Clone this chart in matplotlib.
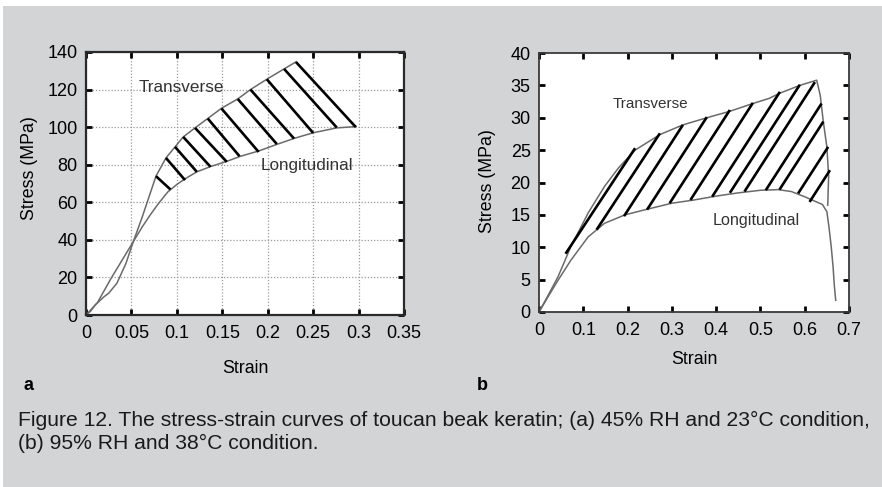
import numpy as np
import matplotlib
matplotlib.use("Agg")
import matplotlib.pyplot as plt
from matplotlib.patches import Rectangle

plt.rcParams['font.family'] = ['Liberation Sans', 'DejaVu Sans']

# (a) 45% RH, 23 C  -- strain / stress (MPa)
a_trans_strain = [0, 0.005, 0.010, 0.0198, 0.025, 0.034, 0.044, 0.052, 0.062, 0.077, 0.088,
                  0.098, 0.107, 0.120, 0.134, 0.149, 0.167, 0.181, 0.199, 0.218, 0.231]
a_trans_stress = [0, 2.0, 5.3, 9.7, 11.6, 16.9, 27.5, 39.0, 52.3, 73.9, 83.6,
                  89.5, 94.8, 99.6, 104.6, 110.0, 115.0, 120.0, 125.5, 131.0, 134.7]
a_long_strain = [0, 0.0125, 0.027, 0.042, 0.052, 0.062, 0.071, 0.080, 0.090, 0.100, 0.109,
                 0.122, 0.137, 0.155, 0.170, 0.190, 0.210, 0.229, 0.250, 0.276, 0.297]
a_long_stress = [0, 6.5, 19.0, 31.0, 39.0, 47.0, 53.5, 59.5, 65.5, 69.5, 72.5,
                 76.2, 79.0, 81.8, 84.5, 87.3, 90.8, 94.0, 97.0, 99.6, 100.3]
# hatch lines: top end (transverse) -> bottom end (longitudinal)
a_hatch_top = [(0.077, 73.9), (0.088, 83.6), (0.098, 89.5), (0.107, 94.8), (0.120, 99.6),
               (0.134, 104.6), (0.149, 110.0), (0.167, 115.0), (0.181, 120.0),
               (0.199, 125.5), (0.218, 131.0), (0.231, 134.7)]
a_hatch_bot = [(0.093, 66.8), (0.109, 71.8), (0.122, 76.2), (0.137, 78.9), (0.155, 81.5),
               (0.169, 84.5), (0.190, 86.8), (0.210, 91.0), (0.229, 93.9),
               (0.250, 96.9), (0.276, 99.8), (0.297, 100.0)]

# (b) 95% RH, 38 C
b_trans_strain = [0, 0.020, 0.043, 0.072, 0.111, 0.148, 0.180, 0.217, 0.273, 0.325, 0.379,
                  0.431, 0.483, 0.520, 0.544, 0.589, 0.627, 0.635, 0.642, 0.650, 0.654, 0.652]
b_trans_stress = [0, 2.5, 5.45, 10.1, 15.3, 19.4, 22.3, 25.0, 27.4, 28.9, 30.0,
                  31.0, 32.2, 33.0, 33.8, 35.0, 35.8, 33.5, 29.4, 25.5, 21.0, 16.5]
b_long_strain = [0, 0.020, 0.043, 0.072, 0.111, 0.148, 0.194, 0.240, 0.300, 0.350, 0.400,
                 0.450, 0.500, 0.540, 0.570, 0.600, 0.620, 0.640, 0.650, 0.655, 0.660,
                 0.664, 0.667, 0.670]
b_long_stress = [0, 2.3, 4.9, 8.0, 11.6, 13.7, 15.0, 15.8, 16.8, 17.3, 17.9,
                 18.4, 18.8, 18.9, 18.6, 17.8, 17.2, 16.6, 15.5, 13.0, 10.0,
                 7.0, 4.0, 1.8]
b_hatch_top = [(0.217, 25.3), (0.273, 27.6), (0.325, 28.9), (0.379, 30.1), (0.431, 31.2),
               (0.483, 32.3), (0.544, 34.0), (0.589, 35.1), (0.623, 35.5), (0.638, 32.2),
               (0.642, 29.4), (0.653, 25.5), (0.657, 21.9)]
b_hatch_bot = [(0.060, 9.0), (0.130, 12.7), (0.192, 14.8), (0.244, 15.8), (0.295, 16.8),
               (0.342, 17.3), (0.391, 17.8), (0.431, 18.4), (0.464, 18.6), (0.512, 18.8),
               (0.543, 18.9), (0.585, 18.3), (0.611, 17.0)]

a_xticks = [0, 0.05, 0.1, 0.15, 0.2, 0.25, 0.3, 0.35]
a_xlabels = ['0', '0.05', '0.1', '0.15', '0.2', '0.25', '0.3', '0.35']
a_yticks = [0, 20, 40, 60, 80, 100, 120, 140]
b_xticks = [0, 0.1, 0.2, 0.3, 0.4, 0.5, 0.6, 0.7]
b_xlabels = ['0', '0.1', '0.2', '0.3', '0.4', '0.5', '0.6', '0.7']
b_yticks = [0, 5, 10, 15, 20, 25, 30, 35, 40]

caption_lines = ["Figure 12. The stress-strain curves of toucan beak keratin; (a) 45% RH and 23\u00b0C condition,",
                 "(b) 95% RH and 38\u00b0C condition."]

bg = '#d3d4d6'
curve_c = '#6a6a6a'

fig = plt.figure(figsize=(8.82, 4.87), dpi=100)
fig.patch.set_facecolor('white')
fig.add_artist(Rectangle((3 / 882, 0), 1, 1 - 6 / 487, transform=fig.transFigure,
                         facecolor=bg, edgecolor='none', zorder=-10))

axa = fig.add_axes([86 / 882, 1 - 315 / 487, 318 / 882, 263 / 487])
axb = fig.add_axes([539 / 882, 1 - 312 / 487, 310 / 882, 259 / 487])

# panel a
axa.plot(a_trans_strain, a_trans_stress, color=curve_c, lw=1.1)
axa.plot(a_long_strain, a_long_stress, color=curve_c, lw=1.1)
for (x0, y0), (x1, y1) in zip(a_hatch_top, a_hatch_bot):
    axa.plot([x0, x1], [y0, y1], color='black', lw=1.9, solid_capstyle='butt')
axa.set_xlim(0, 0.35)
axa.set_ylim(0, 140)
axa.set_xticks(a_xticks)
axa.set_xticklabels(a_xlabels)
axa.set_yticks(a_yticks)
axa.grid(True, color='#9a9a9a', linestyle=(0, (1, 1.5)), linewidth=0.9)
axa.text(0.105, 121, 'Transverse', fontsize=12.3, ha='center', va='center', color='#333333')
axa.text(0.243, 79.5, 'Longitudinal', fontsize=12.3, ha='center', va='center', color='#333333')
for s in axa.spines.values():
    s.set_linewidth(1.6)
    s.set_color('#2a2a2a')
axa.set_xlabel('Strain', fontsize=12.8)
axa.set_ylabel('Stress (MPa)', fontsize=12.8)
axa.xaxis.set_label_coords(0.5, -0.17)
axa.yaxis.set_label_coords(-0.15, 0.56)

# panel b
axb.plot(b_trans_strain, b_trans_stress, color=curve_c, lw=1.1)
axb.plot(b_long_strain, b_long_stress, color=curve_c, lw=1.1)
for (x0, y0), (x1, y1) in zip(b_hatch_top, b_hatch_bot):
    axb.plot([x0, x1], [y0, y1], color='black', lw=1.9, solid_capstyle='butt')
axb.set_xlim(0, 0.7)
axb.set_ylim(0, 40)
axb.set_xticks(b_xticks)
axb.set_xticklabels(b_xlabels)
axb.set_yticks(b_yticks)
axb.text(0.251, 32.2, 'Transverse', fontsize=11, ha='center', va='center', color='#333333')
axb.text(0.491, 14.2, 'Longitudinal', fontsize=11.6, ha='center', va='center', color='#333333')
for s in axb.spines.values():
    s.set_linewidth(1.3)
    s.set_color('#3a3a3a')
axb.set_xlabel('Strain', fontsize=12.8)
axb.set_ylabel('Stress (MPa)', fontsize=12.8)
axb.xaxis.set_label_coords(0.5, -0.15)
axb.yaxis.set_label_coords(-0.14, 0.506)

for ax in (axa, axb):
    ax.set_facecolor('white')
    ax.tick_params(direction='in', top=True, right=True, length=4, width=2,
                   labelsize=13, color='black')
    ax.tick_params(axis='x', pad=7)
    ax.tick_params(axis='y', pad=6)

fig.text(28 / 882, 1 - 385 / 487, 'a', fontsize=13, fontweight='bold', ha='center', va='center')
fig.text(482 / 882, 1 - 385 / 487, 'b', fontsize=13, fontweight='bold', ha='center', va='center')
for i, line in enumerate(caption_lines):
    fig.text(18 / 882, 1 - (420 + 23 * i) / 487, line, fontsize=15.2, ha='left', va='center',
             color='#1a1a1a')

fig.savefig('out.png', dpi=100, facecolor=fig.get_facecolor())
